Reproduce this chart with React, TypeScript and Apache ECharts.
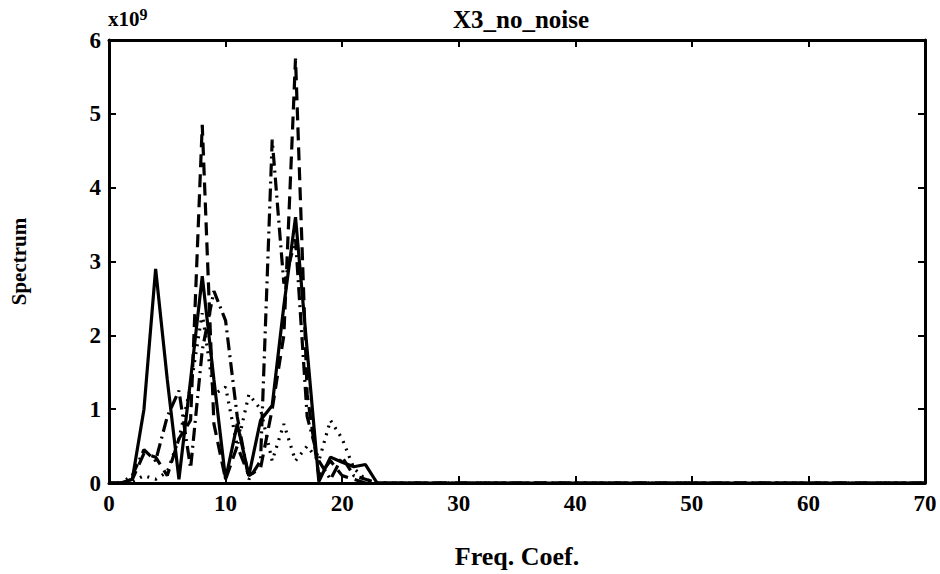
import React, { useEffect, useRef } from "react";
import * as echarts from "echarts";

const freqCoef: number[] = Array.from({ length: 71 }, (_, i) => i);

const solidHead = [0, 0, 0.05, 1.0, 2.9, 1.4, 0.05, 1.4, 2.8, 1.4, 0.05, 0.8, 0.1, 0.85, 1.05, 2.4, 3.6, 1.8, 0.02, 0.35, 0.28, 0.22, 0.25, 0];
const dashedHead = [0, 0, 0.05, 0.4, 0.35, 0.1, 0.6, 0.85, 4.85, 0.8, 0.05, 0.5, 0.1, 0.2, 1.0, 2.0, 5.75, 1.2, 0.1, 0.3, 0.1, 0.05, 0];
const dashDotHead = [0, 0, 0.1, 0.45, 0.3, 0.9, 1.25, 0.2, 1.8, 2.6, 2.2, 0.9, 0.05, 0.3, 4.65, 2.7, 3.3, 0.9, 0.3, 0.05, 0.35, 0.1, 0.05, 0];
const dottedHead = [0, 0, 0.02, 0.1, 0.05, 0.15, 0.6, 1.3, 2.3, 1.2, 1.3, 0.5, 1.2, 1.0, 0.3, 0.8, 0.3, 0.5, 0.3, 0.85, 0.6, 0.2, 0.05, 0];

const pad = (head: number[]) => freqCoef.map((_, i) => (i < head.length ? head[i] : 0));

const yTicks = ["0", "1", "2", "3", "4", "5", "6"];
const xTicks = ["0", "10", "20", "30", "40", "50", "60", "70"];

const FONT = "'Liberation Serif', 'DejaVu Serif', serif";

export default function App() {
  const ref = useRef<HTMLDivElement>(null);
  useEffect(() => {
    if (!ref.current) return;
    const chart = echarts.init(ref.current, undefined, { renderer: "svg" });
    const mk = (name: string, head: number[], type: any) => ({
      name,
      type: "line",
      data: freqCoef.map((x, i) => [x, pad(head)[i]]),
      showSymbol: false,
      symbol: "none",
      lineStyle: { color: "#000", width: 3.2, type },
      xAxisIndex: 0,
      yAxisIndex: 0,
      z: 3,
    });
    const axisBase = {
      axisLine: { show: true, onZero: false, lineStyle: { color: "#000", width: 3 } },
      axisTick: { show: true, inside: true, length: 7, lineStyle: { color: "#000", width: 2 } },
      splitLine: { show: false },
    };
    chart.setOption({
      animation: false,
      backgroundColor: "#fff",
      title: {
        text: "X3_no_noise",
        left: 516,
        textAlign: "center",
        top: 2,
        textStyle: { fontFamily: FONT, fontWeight: "bold", fontSize: 25, color: "#000" },
      },
      grid: { left: 107, right: 15, top: 40, bottom: 84, containLabel: false },
      graphic: [
        {
          type: "text",
          left: 108,
          top: 6,
          style: {
            text: "{a|x10}{b|9}",
            rich: {
              a: { fontFamily: FONT, fontWeight: "bold", fontSize: 21, fill: "#000", verticalAlign: "bottom" },
              b: { fontFamily: FONT, fontWeight: "bold", fontSize: 16, fill: "#000", verticalAlign: "top", padding: [0, 0, 7, 0] },
            },
          },
        },
      ],
      xAxis: [
        {
          type: "value",
          min: 0,
          max: 70,
          interval: 10,
          position: "bottom",
          ...axisBase,
          axisLabel: {
            color: "#000",
            fontFamily: FONT,
            fontWeight: "bold",
            fontSize: 23,
            margin: 9,
            formatter: (v: number) => xTicks[Math.round(v / 10)] ?? "",
          },
          name: "Freq. Coef.",
          nameLocation: "middle",
          nameGap: 60,
          nameTextStyle: { color: "#000", fontFamily: FONT, fontWeight: "bold", fontSize: 26 },
        },
        {
          type: "value",
          min: 0,
          max: 70,
          interval: 10,
          position: "top",
          ...axisBase,
          axisLabel: { show: false },
        },
      ],
      yAxis: [
        {
          type: "value",
          min: 0,
          max: 6,
          interval: 1,
          position: "left",
          ...axisBase,
          axisLabel: {
            color: "#000",
            fontFamily: FONT,
            fontWeight: "bold",
            fontSize: 23,
            margin: 8,
            formatter: (v: number) => yTicks[Math.round(v)] ?? "",
          },
          name: "Spectrum",
          nameLocation: "middle",
          nameGap: 80,
          nameRotate: 90,
          nameTextStyle: { color: "#000", fontFamily: FONT, fontWeight: "bold", fontSize: 21 },
        },
        {
          type: "value",
          min: 0,
          max: 6,
          interval: 1,
          position: "right",
          ...axisBase,
          axisLabel: { show: false },
        },
      ],
      series: [
        mk("solid", solidHead, "solid"),
        mk("dashed", dashedHead, [13, 7]),
        mk("dashdot", dashDotHead, [13, 5, 2, 5]),
        mk("dotted", dottedHead, [2, 6]),
      ],
    });
    return () => chart.dispose();
  }, []);
  return <div ref={ref} style={{ width: 940, height: 574, position: "absolute", left: 0, top: 0 }} />;
}
